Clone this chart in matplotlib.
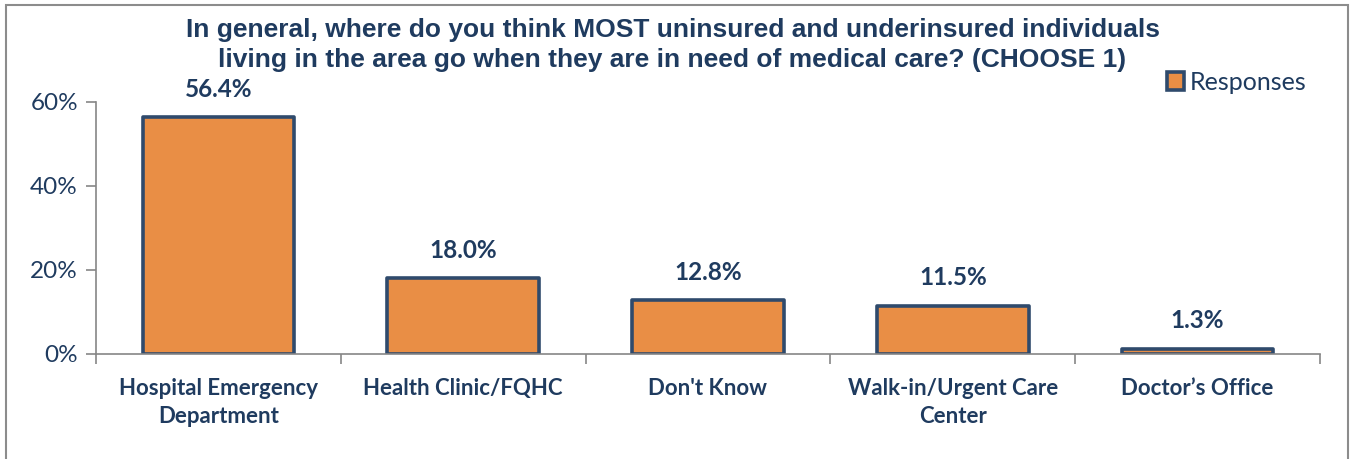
import numpy as np
import matplotlib.pyplot as plt
from matplotlib.patches import Rectangle

## data
categories = ["Hospital Emergency\nDepartment", "Health Clinic/FQHC", "Don't Know",
              "Walk-in/Urgent Care\nCenter", "Doctor\u2019s Office"]
responses = [56.4, 18.0, 12.8, 11.5, 1.3]
yticks = [0, 20, 40, 60]
title = ("In general, where do you think MOST uninsured and underinsured individuals\n"
         "living in the area go when they are in need of medical care? (CHOOSE 1)")

navy = '#1F3B5F'
orange = '#E98E45'
edge = '#2F4A6C'
gray = '#868686'

## figure
fig = plt.figure(figsize=(13.51, 4.59), dpi=100)
ax = fig.add_axes([96/1351, 1 - 354/459, (1320 - 96)/1351, (354 - 102)/459])

# outer frame (bottom edge runs off the image)
fig.patches.append(Rectangle((6/1351, -0.05), (1348 - 6)/1351, 1.05 - 5/459,
                             transform=fig.transFigure, fill=False,
                             edgecolor='#8C8C8C', linewidth=1.5))

x = np.arange(len(categories))
bars = ax.bar(x, responses, width=0.62, color=orange, edgecolor=edge,
              linewidth=2.6, label='Responses', joinstyle='round')

for xi, v in zip(x, responses):
    ax.annotate(f"{v:.1f}%", (xi, v), xytext=(0, 20), textcoords='offset points',
                ha='center', va='center', fontsize=17.5, fontweight='bold',
                color=navy, family='Lato')

ax.set_xlim(-0.5, len(categories) - 0.5)
ax.set_ylim(0, 60)
ax.set_yticks(yticks)
ax.set_yticklabels([f"{t}%" for t in yticks], fontsize=17.5, color=navy, family='Lato')
ax.tick_params(axis='y', direction='out', length=7, color=gray, width=1.2, pad=6)

# x ticks sit between categories, labels centered under bars
ax.set_xticks(np.arange(len(categories) + 1) - 0.5)
ax.set_xticklabels([])
ax.tick_params(axis='x', direction='out', length=7, color=gray, width=1.2)
for xi, c in zip(x, categories):
    ax.text(xi, -5.6, c, ha='center', va='top', fontsize=16, fontweight='bold',
            color=navy, family='Lato', linespacing=1.42)

for s in ['top', 'right']:
    ax.spines[s].set_visible(False)
for s in ['left', 'bottom']:
    ax.spines[s].set_color(gray)
    ax.spines[s].set_linewidth(1.2)

fig.text(0.4978, 0.96, title, ha='center', va='top', fontsize=19, fontweight='bold',
         color=navy, family='Liberation Sans', linespacing=1.28)

leg = fig.legend(handles=[bars], labels=['Responses'], loc='center left',
                 bbox_to_anchor=(1144/1351, 1 - 82/459), frameon=False,
                 handlelength=0.7, handleheight=0.7, handletextpad=0.25,
                 prop={'family': 'Lato', 'size': 18})
for t in leg.get_texts():
    t.set_color(navy)

fig.savefig('out.png', dpi=100)
